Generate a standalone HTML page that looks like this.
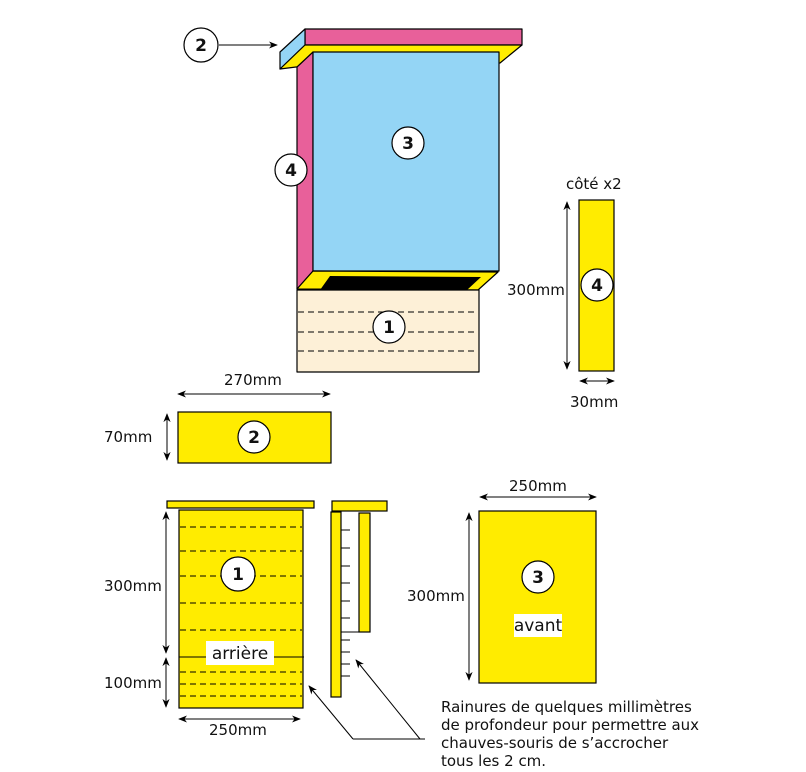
<!DOCTYPE html>
<html><head><meta charset="utf-8"><style>
html,body{margin:0;padding:0;background:#fff;}
svg{display:block;}
text{font-family:"DejaVu Sans","Liberation Sans",sans-serif;font-size:15px;fill:#111;}
.n{font-weight:bold;font-size:17px;text-anchor:middle;}
</style></head><body>
<svg width="806" height="772" viewBox="0 0 806 772" xmlns="http://www.w3.org/2000/svg">
<defs>
<marker id="a" viewBox="0 0 10 10" refX="9" refY="5" markerWidth="9" markerHeight="9" orient="auto-start-reverse"><path d="M0,1 L10,5 L0,9 L3,5 z" fill="#000"/></marker>
</defs>
<g stroke="#000" stroke-width="1.2" stroke-linejoin="round">
<polygon points="305,29 522,29 522,45 305,45" fill="#E8609A"/>
<polygon points="280,52 305,29 305,45 280,69" fill="#94D5F5"/>
<polygon points="280,69 305,45 522,45 500,63 296,67" fill="#FFEC00"/>
<polygon points="297,67 313,52 313,271 297,289" fill="#E8609A"/>
<rect x="313" y="52" width="186" height="219" fill="#94D5F5"/>
<polygon points="297,289 313,271 498,272 478,290" fill="#FFEC00"/>
<polygon points="320,290 330,276 481,277 467,290" fill="#000" stroke="none"/>
<rect x="297" y="290" width="182" height="82" fill="#FDF0D7"/>
</g>
<g stroke="#000" stroke-width="1.1" stroke-dasharray="6,4">
<line x1="298" y1="312" x2="478" y2="312"/><line x1="298" y1="332" x2="478" y2="332"/><line x1="298" y1="351" x2="478" y2="351"/>
</g>
<g stroke="#000" stroke-width="1.2" fill="#fff">
<circle cx="389" cy="327" r="16"/><circle cx="408" cy="143" r="16"/><circle cx="291" cy="170" r="16"/><circle cx="201" cy="45" r="17"/>
</g>
<text class="n" x="389" y="333">1</text><text class="n" x="408" y="149">3</text><text class="n" x="291" y="176">4</text><text class="n" x="201" y="51">2</text>
<line x1="219" y1="45" x2="277" y2="45" stroke="#000" marker-end="url(#a)"/>

<text x="566" y="189">côté x2</text>
<rect x="579" y="200" width="35" height="171" fill="#FFEC00" stroke="#000" stroke-width="1.2"/>
<circle cx="597" cy="285" r="16" fill="#fff" stroke="#000" stroke-width="1.2"/><text class="n" x="597" y="291">4</text>
<line x1="567" y1="202" x2="567" y2="369" stroke="#000" marker-start="url(#a)" marker-end="url(#a)"/>
<text x="507" y="295">300mm</text>
<line x1="580" y1="381" x2="614" y2="381" stroke="#000" marker-start="url(#a)" marker-end="url(#a)"/>
<text x="570" y="407">30mm</text>

<text x="224" y="385">270mm</text>
<line x1="178" y1="394" x2="330" y2="394" stroke="#000" marker-start="url(#a)" marker-end="url(#a)"/>
<rect x="178" y="412" width="153" height="51" fill="#FFEC00" stroke="#000" stroke-width="1.2"/>
<circle cx="254" cy="437" r="16" fill="#fff" stroke="#000" stroke-width="1.2"/><text class="n" x="254" y="443">2</text>
<line x1="167" y1="414" x2="167" y2="460" stroke="#000" marker-start="url(#a)" marker-end="url(#a)"/>
<text x="104" y="442">70mm</text>

<rect x="167" y="501" width="147" height="7" fill="#FFEC00" stroke="#000" stroke-width="1.2"/>
<rect x="179" y="510" width="124" height="198" fill="#FFEC00" stroke="#000" stroke-width="1.2"/>
<g stroke="#000" stroke-width="1.1" stroke-dasharray="6,4">
<line x1="180" y1="527" x2="302" y2="527"/><line x1="180" y1="551" x2="302" y2="551"/><line x1="180" y1="576" x2="302" y2="576"/><line x1="180" y1="603" x2="302" y2="603"/><line x1="180" y1="630" x2="302" y2="630"/><line x1="180" y1="672" x2="302" y2="672"/><line x1="180" y1="684" x2="302" y2="684"/><line x1="180" y1="696" x2="302" y2="696"/>
</g>
<line x1="179" y1="657" x2="304" y2="657" stroke="#000"/>
<circle cx="238" cy="574" r="17" fill="#fff" stroke="#000" stroke-width="1.2"/><text class="n" x="238" y="580">1</text>
<rect x="206" y="641" width="68" height="24" fill="#fff"/><text x="240" y="659" text-anchor="middle" style="font-size:17px">arrière</text>
<line x1="166" y1="512" x2="166" y2="653" stroke="#000" marker-start="url(#a)" marker-end="url(#a)"/>
<line x1="166" y1="658" x2="166" y2="707" stroke="#000" marker-start="url(#a)" marker-end="url(#a)"/>
<text x="104" y="591">300mm</text><text x="104" y="688">100mm</text>
<line x1="179" y1="719" x2="300" y2="719" stroke="#000" marker-start="url(#a)" marker-end="url(#a)"/>
<text x="209" y="735">250mm</text>

<rect x="332" y="501" width="55" height="10" fill="#FFEC00" stroke="#000" stroke-width="1.2"/>
<rect x="331" y="512" width="10" height="185" fill="#FFEC00" stroke="#000" stroke-width="1.2"/>
<rect x="359" y="513" width="11" height="119" fill="#FFEC00" stroke="#000" stroke-width="1.2"/>
<g stroke="#000" stroke-width="1">
<line x1="341" y1="530" x2="350" y2="530"/><line x1="341" y1="548" x2="350" y2="548"/><line x1="341" y1="566" x2="350" y2="566"/><line x1="341" y1="583" x2="350" y2="583"/><line x1="341" y1="601" x2="350" y2="601"/><line x1="341" y1="618" x2="350" y2="618"/><line x1="341" y1="632" x2="370" y2="632"/><line x1="341" y1="640" x2="350" y2="640"/><line x1="341" y1="652" x2="350" y2="652"/><line x1="341" y1="664" x2="350" y2="664"/><line x1="341" y1="676" x2="350" y2="676"/>
<polyline points="425,739 353,739" fill="none"/>
</g>
<line x1="353" y1="739" x2="309" y2="686" stroke="#000" marker-end="url(#a)"/>
<line x1="420" y1="739" x2="356" y2="660" stroke="#000" marker-end="url(#a)"/>
<text x="441" y="712">Rainures de quelques millimètres</text>
<text x="441" y="730">de profondeur pour permettre aux</text>
<text x="441" y="748">chauves-souris de s’accrocher</text>
<text x="441" y="766">tous les 2 cm.</text>

<text x="509" y="491">250mm</text>
<line x1="480" y1="497" x2="596" y2="497" stroke="#000" marker-start="url(#a)" marker-end="url(#a)"/>
<rect x="479" y="511" width="117" height="172" fill="#FFEC00" stroke="#000" stroke-width="1.2"/>
<line x1="469" y1="513" x2="469" y2="680" stroke="#000" marker-start="url(#a)" marker-end="url(#a)"/>
<text x="407" y="601">300mm</text>
<circle cx="538" cy="577" r="16" fill="#fff" stroke="#000" stroke-width="1.2"/><text class="n" x="538" y="583">3</text>
<rect x="514" y="614" width="48" height="23" fill="#fff"/><text x="538" y="631" text-anchor="middle" style="font-size:17px">avant</text>
</svg>
</body></html>
